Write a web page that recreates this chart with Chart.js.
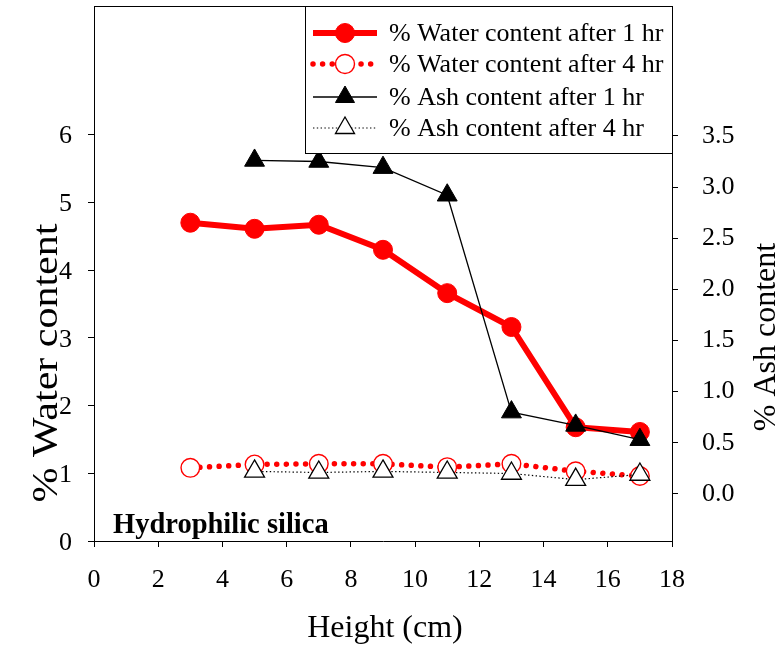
<!DOCTYPE html>
<html>
<head>
<meta charset="utf-8">
<script src="https://cdn.jsdelivr.net/npm/chart.js@4.4.0/dist/chart.umd.min.js"></script>
<style>
  html, body { margin: 0; padding: 0; background: #ffffff; }
  #wrap { width: 778px; height: 648px; }
</style>
</head>
<body>
<div id="wrap"><canvas id="c" width="778" height="648"></canvas></div>
<script>
// Sampling heights along the column (cm)
const heights = [3, 5, 7, 9, 11, 13, 15, 17];
const ashHeights = [5, 7, 9, 11, 13, 15, 17];

// Water content (%), left axis
const water1hr = [4.70, 4.61, 4.67, 4.30, 3.66, 3.16, 1.68, 1.61];
const water4hr = [1.08, 1.13, 1.14, 1.14, 1.09, 1.14, 1.03, 0.96];

// Ash content (%), right axis
const ash1hr = [3.26, 3.25, 3.19, 2.92, 0.80, 0.67, 0.53];
const ash4hr = [0.22, 0.21, 0.22, 0.21, 0.20, 0.14, 0.19];

const seriesLabels = [
  '% Water content after 1 hr',
  '% Water content after 4 hr',
  '% Ash content after 1 hr',
  '% Ash content after 4 hr'
];

// Tick labels
const heightTicks = [0, 2, 4, 6, 8, 10, 12, 14, 16, 18];
const waterTicks = [0, 1, 2, 3, 4, 5, 6];
const ashTicks = [0, 0.5, 1, 1.5, 2, 2.5, 3, 3.5];

const xTitle = 'Height (cm)';
const leftTitle = '% Water content';
const rightTitle = '% Ash content';
const panelLabel = 'Hydrophilic silica';

const SERIF = "'Liberation Serif', 'Times New Roman', serif";
const RED = '#ff0000';

const pairs = (xs, ys) => xs.map((x, i) => ({ x: x, y: ys[i] }));

const datasets = [
  {
    label: seriesLabels[0], data: pairs(heights, water1hr), yAxisID: 'y',
    borderColor: RED, borderWidth: 6, backgroundColor: RED,
    pointStyle: 'circle', pointRadius: 9.5, pointBorderWidth: 1,
    pointBackgroundColor: RED, pointBorderColor: RED, order: 4
  },
  {
    label: seriesLabels[1], data: pairs(heights, water4hr), yAxisID: 'y',
    borderColor: RED, borderWidth: 5.5, borderDash: [0.01, 9.6], borderCapStyle: 'round',
    pointStyle: 'circle', pointRadius: 9.3, pointBorderWidth: 1.4,
    pointBackgroundColor: '#ffffff', pointBorderColor: RED, order: 3
  },
  {
    label: seriesLabels[2], data: pairs(ashHeights, ash1hr), yAxisID: 'y2',
    borderColor: '#000000', borderWidth: 1.3, backgroundColor: '#000000',
    pointStyle: 'triangle', pointRadius: 11.5, pointBorderWidth: 1,
    pointBackgroundColor: '#000000', pointBorderColor: '#000000', order: 2
  },
  {
    label: seriesLabels[3], data: pairs(ashHeights, ash4hr), yAxisID: 'y2',
    borderColor: '#000000', borderWidth: 1.2, borderDash: [1.4, 2.4],
    pointStyle: 'triangle', pointRadius: 11.5, pointBorderWidth: 1.3,
    pointBackgroundColor: '#ffffff', pointBorderColor: '#000000', order: 1
  }
];

// Frame, titles, panel label and legend drawn on the canvas
const decorations = {
  id: 'decorations',
  afterDraw(chart) {
    const ctx = chart.ctx;
    const a = chart.chartArea;
    ctx.save();

    // top edge of the frame
    ctx.strokeStyle = '#000';
    ctx.lineWidth = 1;
    ctx.beginPath();
    ctx.moveTo(a.left, Math.round(a.top) + 0.5);
    ctx.lineTo(a.right + 0.5, Math.round(a.top) + 0.5);
    ctx.stroke();

    // axis titles
    ctx.fillStyle = '#000';
    ctx.font = '32px ' + SERIF;
    ctx.textAlign = 'center';
    ctx.textBaseline = 'alphabetic';
    ctx.fillText(xTitle, 385, 637);

    ctx.save();
    ctx.translate(57, 363);
    ctx.rotate(-Math.PI / 2);
    ctx.scale(1.2, 1);
    ctx.font = '35px ' + SERIF;
    ctx.fillText(leftTitle, 0, 0);
    ctx.restore();

    ctx.save();
    ctx.translate(775, 337);
    ctx.rotate(-Math.PI / 2);
    ctx.fillText(rightTitle, 0, 0);
    ctx.restore();

    // panel label
    ctx.font = 'bold 28.5px ' + SERIF;
    ctx.textAlign = 'left';
    ctx.fillText(panelLabel, 113, 533);

    // legend box
    const bx = 305.5, by = Math.round(a.top) + 0.5, bw = a.right - 305, bh = 147;
    ctx.fillStyle = '#fff';
    ctx.fillRect(bx, by, bw, bh);
    ctx.strokeStyle = '#000';
    ctx.lineWidth = 1;
    ctx.strokeRect(bx, by, bw, bh);

    const rows = [33, 64, 97, 128];
    const x0 = 313, x1 = 377, xm = 345;
    rows.forEach((ry, i) => {
      const ds = chart.data.datasets[i];
      ctx.save();
      ctx.strokeStyle = ds.borderColor;
      ctx.lineWidth = ds.borderWidth;
      ctx.lineCap = ds.borderCapStyle || 'butt';
      ctx.setLineDash(ds.borderDash || []);
      ctx.beginPath();
      ctx.moveTo(x0, ry);
      ctx.lineTo(x1, ry);
      ctx.stroke();
      ctx.restore();

      ctx.save();
      ctx.fillStyle = ds.pointBackgroundColor;
      ctx.strokeStyle = ds.pointBorderColor;
      ctx.lineWidth = ds.pointBorderWidth;
      Chart.helpers.drawPoint(ctx, {
        pointStyle: ds.pointStyle,
        radius: ds.pointStyle === 'triangle' ? 11 : 9.5,
        borderWidth: ds.pointBorderWidth,
        rotation: 0
      }, xm, ry);
      ctx.restore();

      ctx.fillStyle = '#000';
      ctx.font = '26px ' + SERIF;
      ctx.textAlign = 'left';
      ctx.textBaseline = 'middle';
      ctx.fillText(ds.label, 389, ry + 1);
    });

    ctx.restore();
  }
};

const axisLine = { display: true, color: '#000', width: 1 };
const tickMarks = { drawOnChartArea: false, drawTicks: true, tickLength: 6, color: '#000' };

// fixed box sizes so the plot area sits where the axes belong
const fitVertical = w => s => { s.width = w; s.paddingTop = 0; s.paddingBottom = 0; };

new Chart(document.getElementById('c'), {
  type: 'line',
  data: { datasets: datasets },
  options: {
    responsive: false,
    devicePixelRatio: 1,
    animation: false,
    layout: { autoPadding: false, padding: { top: 6, left: 0, right: 0, bottom: 0 } },
    plugins: { legend: { display: false }, tooltip: { enabled: false } },
    elements: { line: { tension: 0 } },
    scales: {
      x: {
        type: 'linear', min: 0, max: 18,
        afterBuildTicks: s => { s.ticks = heightTicks.map(v => ({ value: v })); },
        afterFit: s => { s.height = 107; s.paddingLeft = 0; s.paddingRight = 0; },
        border: axisLine, grid: tickMarks,
        ticks: { color: '#000', font: { family: SERIF, size: 26 }, padding: 18, maxRotation: 0, autoSkip: false }
      },
      y: {
        type: 'linear', position: 'left', min: 0, max: 7.9,
        afterBuildTicks: s => { s.ticks = waterTicks.map(v => ({ value: v })); },
        afterFit: fitVertical(94),
        border: axisLine, grid: tickMarks,
        ticks: { color: '#000', font: { family: SERIF, size: 26 }, padding: 16, labelOffset: 2 }
      },
      y2: {
        type: 'linear', position: 'right', min: -0.46, max: 4.77,
        afterBuildTicks: s => { s.ticks = ashTicks.map(v => ({ value: v })); },
        afterFit: fitVertical(106),
        border: axisLine, grid: tickMarks,
        ticks: { color: '#000', font: { family: SERIF, size: 26 }, padding: 24,
                 callback: v => Number(v).toFixed(1) }
      }
    }
  },
  plugins: [decorations]
});
</script>
</body>
</html>
